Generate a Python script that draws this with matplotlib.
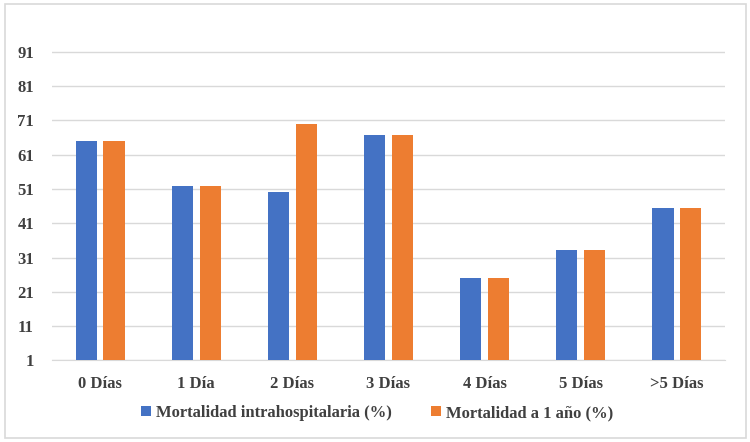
import matplotlib
matplotlib.use("Agg")
import matplotlib.pyplot as plt
from matplotlib.patches import Rectangle
import numpy as np

categorias = ["0 Días", "1 Día", "2 Días", "3 Días", "4 Días", "5 Días", ">5 Días"]
intrahospitalaria = [65, 52, 50, 66.7, 25, 33.3, 45.5]
un_ano = [65, 52, 70, 66.7, 25, 33.3, 45.5]
yticks = [1, 11, 21, 31, 41, 51, 61, 71, 81, 91]

plt.rcParams['font.family'] = ['Liberation Serif', 'DejaVu Serif']
plt.rcParams['font.weight'] = 'bold'

fig = plt.figure(figsize=(7.5, 4.42), dpi=100)
ax = fig.add_axes([0.0693, 0.1844, 0.8974, 0.776])

x = np.arange(len(categorias))
w = 0.22
ax.bar(x - 0.145, intrahospitalaria, w, bottom=0, color="#4472C4",
       label="Mortalidad intrahospitalaria (%)", zorder=3)
ax.bar(x + 0.145, un_ano, w, bottom=0, color="#ED7D31",
       label="Mortalidad a 1 año (%)", zorder=3)

ax.set_ylim(1, 101)
ax.set_xlim(-0.5, len(categorias) - 0.5)
ax.set_yticks(yticks)
ax.set_xticks(x)
ax.set_xticklabels(categorias)
ax.yaxis.grid(True, color="#d9d9d9", linewidth=1, zorder=0)
for s in ["top", "right", "left"]:
    ax.spines[s].set_visible(False)
ax.spines["bottom"].set_color("#d9d9d9")
ax.tick_params(axis="both", length=0, labelsize=12, colors="#404040")
ax.tick_params(axis="y", pad=13)
ax.tick_params(axis="x", pad=11)
for lab in ax.get_xticklabels() + ax.get_yticklabels():
    lab.set_fontweight("bold")

leg = ax.legend(loc="center", bbox_to_anchor=(0.483, -0.153), ncol=2,
                frameon=False, fontsize=12, handlelength=0.6, handleheight=0.6,
                handletextpad=0.3, columnspacing=2.3)
for t in leg.get_texts():
    t.set_color("#404040")
    t.set_fontweight("bold")

fig.patches.append(Rectangle((0.006, 0.01), 0.988, 0.98, transform=fig.transFigure,
                             fill=False, edgecolor="#d9d9d9", linewidth=1.2))

plt.savefig("out.png", dpi=100)
plt.close()
